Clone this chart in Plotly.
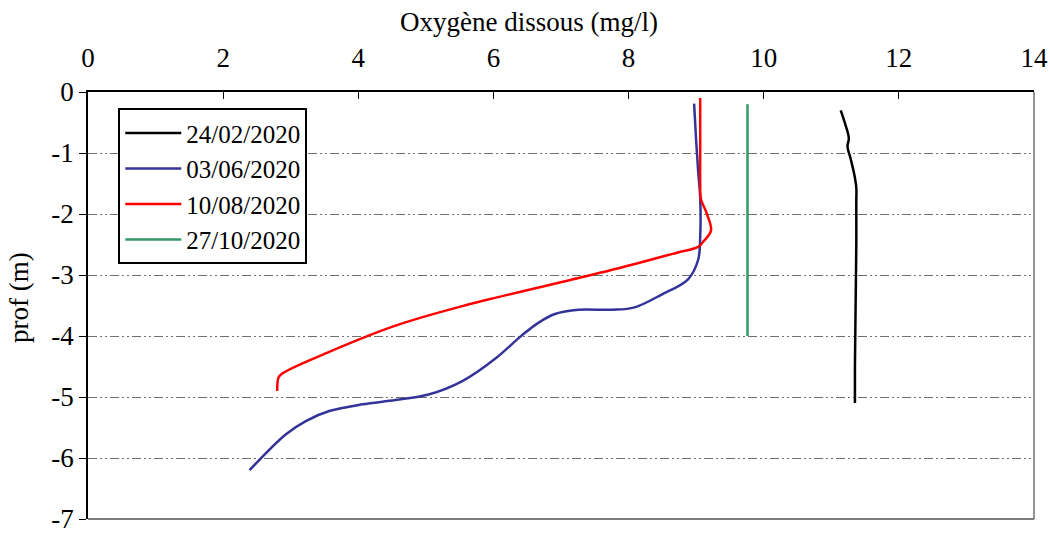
import plotly.graph_objects as go

# ---- data ----
series_names = ["24/02/2020", "03/06/2020", "10/08/2020", "27/10/2020"]
series_colors = ["#000000", "#333399", "#ff0000", "#339966"]

depth_feb = [-0.3, -0.54, -0.76, -0.89, -1.11, -1.35, -1.57, -1.8, -2.5, -3.5, -4.5, -5.1]
oxy_feb = [11.14, 11.21, 11.26, 11.24, 11.29, 11.34, 11.37, 11.37, 11.37, 11.36, 11.35, 11.35]

depth_jun = [-0.19, -0.8, -1.3, -1.73, -2.37, -2.75, -3.07, -3.32, -3.53, -3.57, -3.57, -3.64,
             -3.78, -3.99, -4.37, -4.74, -4.96, -5.05, -5.12, -5.23, -5.39, -5.61, -6.2]
oxy_jun = [8.97, 9.00, 9.03, 9.06, 9.06, 9.03, 8.88, 8.49, 8.09, 7.75, 7.26, 6.91,
           6.67, 6.42, 6.03, 5.54, 5.04, 4.55, 4.06, 3.57, 3.23, 2.93, 2.39]

depth_aug = [-0.1, -0.5, -1.0, -1.5, -1.75, -2.0, -2.27, -2.46, -2.54, -2.63, -2.89, -3.05,
             -3.51, -3.83, -4.26, -4.61, -4.68, -4.9]
oxy_aug = [9.06, 9.06, 9.06, 9.06, 9.07, 9.16, 9.22, 9.10, 9.03, 8.73, 7.85, 7.26,
           5.54, 4.55, 3.57, 2.88, 2.82, 2.80]

depth_oct = [-0.2, -1.0, -2.0, -3.0, -4.0]
oxy_oct = [9.76, 9.76, 9.76, 9.76, 9.76]

x_tickvals = [0, 2, 4, 6, 8, 10, 12, 14]
y_tickvals = [0, -1, -2, -3, -4, -5, -6, -7]
y_ticktext = ["0", "-1", "-2", "-3", "-4", "-5", "-6", "-7"]

x_title = "Oxygène dissous (mg/l)"
y_title = "prof (m)"

FONT = "Liberation Serif, Times New Roman, serif"

fig = go.Figure()
all_x = [oxy_feb, oxy_jun, oxy_aug, oxy_oct]
all_y = [depth_feb, depth_jun, depth_aug, depth_oct]
for name, color, xs, ys in zip(series_names, series_colors, all_x, all_y):
    fig.add_trace(go.Scatter(
        x=xs, y=ys, mode="lines", name=name,
        line=dict(color=color, width=2.5, shape="spline", smoothing=1.0),
    ))

fig.update_layout(
    width=1050, height=536,
    margin=dict(l=88, r=16, t=92, b=17, autoexpand=False),
    paper_bgcolor="white", plot_bgcolor="white",
    font=dict(family=FONT, size=26, color="black"),
    showlegend=True,
    legend=dict(
        x=0.032, y=0.962, xanchor="left", yanchor="top",
        bgcolor="white", bordercolor="black", borderwidth=2,
        font=dict(family=FONT, size=25, color="black"),
        tracegroupgap=0, itemwidth=56,
    ),
    xaxis=dict(
        side="top", range=[0, 14], tickvals=x_tickvals,
        ticks="inside", ticklen=7, tickcolor="black", tickwidth=1,
        showline=True, linecolor="black", linewidth=1.5,
        showgrid=False, zeroline=False, automargin=False,
        ticklabelstandoff=12, ticklabeloverflow="allow",
        tickfont=dict(family=FONT, size=27, color="black"),
    ),
    yaxis=dict(
        range=[-7, 0], tickvals=y_tickvals, ticktext=y_ticktext,
        ticks="outside", ticklen=7, tickcolor="black", tickwidth=1,
        showline=True, linecolor="black", linewidth=1.5,
        showgrid=True, gridcolor="#707070", gridwidth=1,
        griddash="9px,3px,2px,3px,2px,3px",
        zeroline=False, automargin=False, ticklabeloverflow="allow",
        tickfont=dict(family=FONT, size=27, color="black"),
    ),
    shapes=[
        dict(type="line", xref="paper", yref="paper", x0=1, x1=1, y0=0, y1=1,
             line=dict(color="#707070", width=1.5)),
        dict(type="line", xref="paper", yref="paper", x0=0, x1=1, y0=0, y1=0,
             line=dict(color="#505050", width=1.5)),
    ],
    annotations=[
        dict(text=x_title, xref="paper", yref="paper", x=0.4667, y=1.165,
             xanchor="center", yanchor="middle", showarrow=False,
             font=dict(family=FONT, size=27, color="black")),
        dict(text=y_title, xref="paper", yref="paper", x=-0.073, y=0.52,
             xanchor="center", yanchor="middle", showarrow=False, textangle=-90,
             font=dict(family=FONT, size=27, color="black")),
    ],
)

fig.write_html("out.html")
